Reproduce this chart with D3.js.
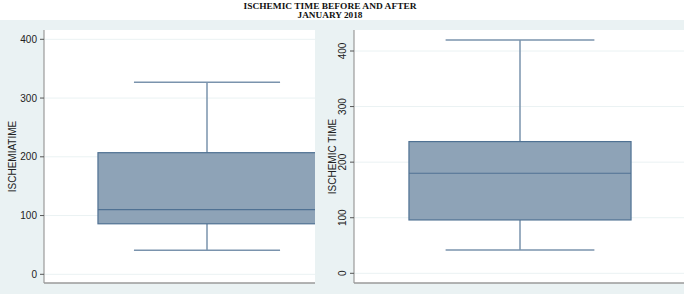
<!DOCTYPE html>
<html><head><meta charset="utf-8">
<script src="https://cdn.jsdelivr.net/npm/d3@7"></script>
<style>body{margin:0;background:#fff}svg{display:block}</style>
</head><body>
<svg id="c" width="684" height="294"></svg>
<script>
const titleLines = ["ISCHEMIC TIME BEFORE AND AFTER", "JANUARY 2018"];
const panelNames = ["before", "after"];
const yTitles = ["ISCHEMIATIME", "ISCHEMIC TIME"];
const yTicks = [0, 100, 200, 300, 400];
// five-number summaries: min, q1, median, q3, max
const mins = [41, 42];
const q1s = [86, 96];
const medians = [110, 180];
const q3s = [207, 237];
const maxs = [327, 420];

const svg = d3.select("#c");
const bg = "#eaf2f3";
svg.append("rect").attr("x",0).attr("y",20).attr("width",684).attr("height",274).attr("fill",bg);

// title
const title = svg.append("g");
title.append("text").attr("x",330).attr("y",8.5).attr("text-anchor","middle")
  .attr("font-family","Liberation Serif").attr("font-weight","bold").attr("font-size",9)
  .attr("textLength",173).attr("lengthAdjust","spacingAndGlyphs").attr("fill","#111").text(titleLines[0]);
title.append("text").attr("x",330).attr("y",18).attr("text-anchor","middle")
  .attr("font-family","Liberation Serif").attr("font-weight","bold").attr("font-size",9)
  .attr("textLength",65).attr("lengthAdjust","spacingAndGlyphs").attr("fill","#111").text(titleLines[1]);

const panels = [
  {x0:44, x1:315, fullRight:370, y0:30, y1:283, yBottom:274.3, yTop400:39.3, rotLabels:false, labelX:37, titleX:16},
  {x0:354, x1:684, fullRight:686, y0:30, y1:283, yBottom:273.3, yTop400:51, rotLabels:true, labelX:346, titleX:335.5}
];

panels.forEach((p, i) => {
  const g = svg.append("g");
  const clipId = "clip" + i;
  svg.append("clipPath").attr("id", clipId).append("rect")
    .attr("x", p.x0).attr("y", p.y0).attr("width", p.x1 - p.x0).attr("height", p.y1 - p.y0);
  g.append("rect").attr("x",p.x0).attr("y",p.y0).attr("width",p.x1-p.x0).attr("height",p.y1-p.y0).attr("fill","#fff");

  const y = d3.scaleLinear().domain([0, 400]).range([p.yBottom, p.yTop400]);
  const x = d3.scaleBand().domain([panelNames[i]]).range([p.x0, p.fullRight]).paddingInner(0).paddingOuter(0.2475);

  // gridlines
  g.selectAll("line.grid").data(yTicks).join("line")
    .attr("x1", p.x0).attr("x2", p.x1).attr("y1", d => y(d)).attr("y2", d => y(d))
    .attr("stroke", bg).attr("stroke-width", 1);

  const plot = g.append("g").attr("clip-path", `url(#${clipId})`);
  const cx = x(panelNames[i]) + x.bandwidth() / 2;
  const bw = x.bandwidth();
  const capW = bw * 0.67;
  const whisk = "#7a93ad";
  // whiskers
  plot.append("line").attr("x1",cx).attr("x2",cx).attr("y1",y(q3s[i])).attr("y2",y(maxs[i])).attr("stroke",whisk).attr("stroke-width",1.5);
  plot.append("line").attr("x1",cx).attr("x2",cx).attr("y1",y(q1s[i])).attr("y2",y(mins[i])).attr("stroke",whisk).attr("stroke-width",1.5);
  plot.append("line").attr("x1",cx-capW/2).attr("x2",cx+capW/2).attr("y1",y(maxs[i])).attr("y2",y(maxs[i])).attr("stroke",whisk).attr("stroke-width",1.5);
  plot.append("line").attr("x1",cx-capW/2).attr("x2",cx+capW/2).attr("y1",y(mins[i])).attr("y2",y(mins[i])).attr("stroke",whisk).attr("stroke-width",1.5);
  // box
  plot.append("rect").attr("x", x(panelNames[i])).attr("width", bw)
    .attr("y", y(q3s[i])).attr("height", y(q1s[i]) - y(q3s[i]))
    .attr("fill", "#8ea3b7").attr("stroke", "#4f7193").attr("stroke-width", 1.2);
  plot.append("line").attr("x1", x(panelNames[i])).attr("x2", x(panelNames[i]) + bw)
    .attr("y1", y(medians[i])).attr("y2", y(medians[i])).attr("stroke", "#4f7193").attr("stroke-width", 1.2);

  // axes
  const axisCol = "#9a9a9a";
  g.append("line").attr("x1",p.x0).attr("x2",p.x0).attr("y1",p.y0).attr("y2",p.y1).attr("stroke",axisCol).attr("stroke-width",1.2);
  g.append("line").attr("x1",p.x0).attr("x2",p.x1).attr("y1",p.y1).attr("y2",p.y1).attr("stroke",axisCol).attr("stroke-width",1.5);
  g.selectAll("line.tk").data(yTicks).join("line")
    .attr("x1", p.x0 - 4).attr("x2", p.x0).attr("y1", d => y(d)).attr("y2", d => y(d))
    .attr("stroke", "#555").attr("stroke-width", 1);

  const lbl = g.selectAll("text.tl").data(yTicks).join("text")
    .attr("font-family","Liberation Sans").attr("font-size",10).attr("fill","#222");
  if (!p.rotLabels) {
    lbl.attr("x", p.labelX).attr("y", d => y(d)).attr("dy","0.35em").attr("text-anchor","end").text(d => d);
  } else {
    lbl.attr("transform", d => `translate(${p.labelX},${y(d)}) rotate(-90)`)
      .attr("text-anchor","middle").text(d => d);
  }
  g.append("text").attr("transform", `translate(${p.titleX},${156.5}) rotate(-90)`)
    .attr("text-anchor","middle").attr("font-family","Liberation Sans").attr("font-size",10).attr("fill","#222")
    .text(yTitles[i]);
});
</script>
</body></html>
